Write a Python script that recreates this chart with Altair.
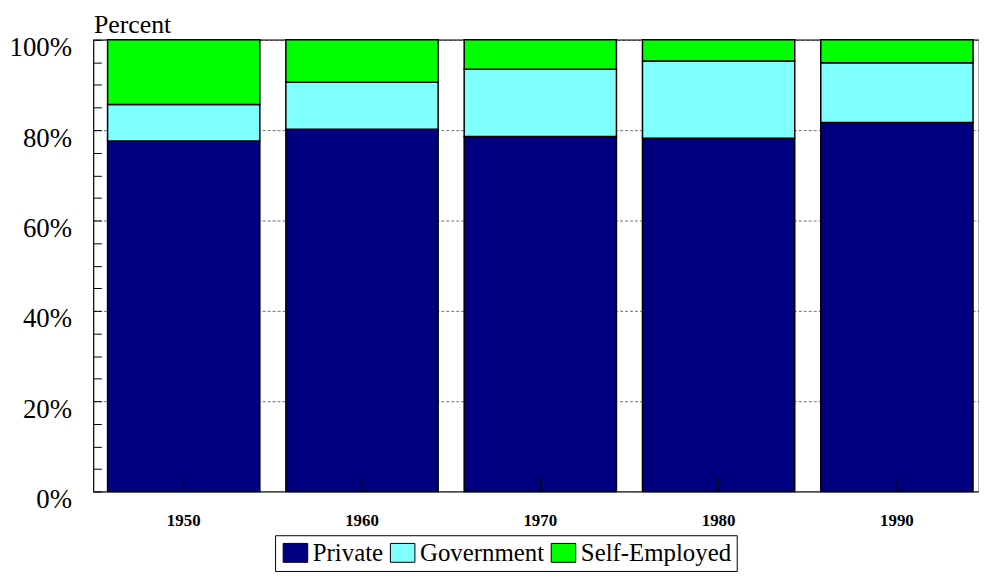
import pandas as pd
import altair as alt

years = ["1950", "1960", "1970", "1980", "1990"]
sectors = ["Private", "Government", "Self-Employed"]
private = [77.6, 80.2, 78.6, 78.2, 81.7]
government = [8.1, 10.4, 14.9, 17.1, 13.2]
self_employed = [14.3, 9.4, 6.5, 4.7, 5.1]
y_ticks = list(range(0, 101, 5))

palette = ["#000080", "#80FFFF", "#00FF00"]
FONT = "Liberation Serif"

rows = []
for series, name in zip([private, government, self_employed], sectors):
    for year, v in zip(years, series):
        rows.append({"year": year, "sector": name, "pct": v, "rank": sectors.index(name)})
df = pd.DataFrame(rows)

chart = (
    alt.Chart(df)
    .mark_bar(stroke="black", strokeWidth=1.5)
    .encode(
        x=alt.X(
            "year:N",
            sort=years,
            title=None,
            scale=alt.Scale(paddingInner=0.146, paddingOuter=0.0565, align=0.704, round=False),
            axis=alt.Axis(
                offset=-14,
                tickSize=14,
                tickColor="black",
                domain=False,
                labelAngle=0,
                labelFont=FONT,
                labelFontSize=17,
                labelFontWeight="bold",
                labelColor="black",
                labelBaseline="alphabetic",
                labelPadding=34,
                zindex=1,
            ),
        ),
        y=alt.Y(
            "pct:Q",
            stack="zero",
            scale=alt.Scale(domain=[0, 100], nice=False),
            axis=alt.Axis(
                values=y_ticks,
                labelExpr="datum.value % 20 == 0 ? datum.value + '%' : ''",
                labelOverlap=False,
                offset=-8,
                tickSize=8,
                tickColor="black",
                domain=False,
                labelFont=FONT,
                labelFontSize=27,
                labelColor="black",
                labelBaseline="alphabetic",
                labelOffset=16,
                labelPadding=22,
                grid=True,
                gridColor="#707070",
                gridDash=[3, 2],
                gridOpacity={"condition": {"test": "datum.value % 20 == 0", "value": 1}, "value": 0},
                title="Percent",
                titleAngle=0,
                titleX=-8,
                titleY=-7,
                titleAlign="left",
                titleBaseline="alphabetic",
                titleFont=FONT,
                titleFontSize=26,
                titleFontWeight="normal",
                titleColor="black",
                zindex=0,
            ),
        ),
        color=alt.Color(
            "sector:N",
            scale=alt.Scale(domain=sectors, range=palette),
            legend=alt.Legend(
                title=None,
                orient="none",
                direction="horizontal",
                legendX=183,
                legendY=499,
                strokeColor="black",
                fillColor="white",
                padding=5,
                symbolType="M-1.3,-1H1.3V1H-1.3Z",
                symbolSize=361,
                symbolOpacity=1,
                symbolStrokeColor="black",
                symbolStrokeWidth=1,
                symbolOffset=3,
                labelFont=FONT,
                labelFontSize=25,
                labelColor="black",
                labelOffset=5,
                columnPadding=4,
            ),
        ),
        order=alt.Order("rank:Q", sort="ascending"),
    )
    .properties(
        width=892,
        height=455,
        autosize=alt.AutoSizeParams(type="none"),
        padding={"left": 86, "top": 30, "right": 0, "bottom": 79},
    )
    .configure_view(stroke="black", strokeWidth=1.2)
)

chart.save("out.html", embed_options={"renderer": "svg", "actions": False})
